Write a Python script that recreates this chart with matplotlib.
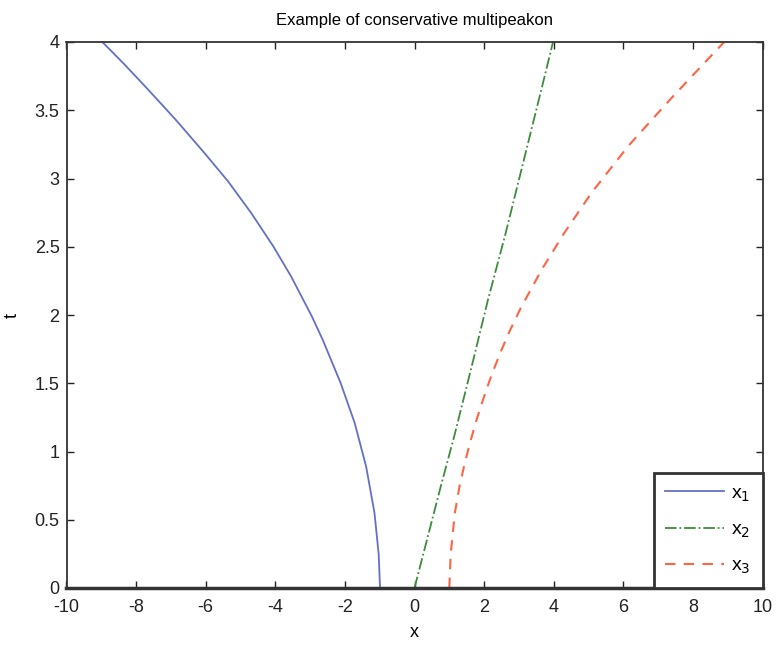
import matplotlib
matplotlib.use("Agg")
import matplotlib.pyplot as plt

# points (x position, time)
x1 = [-0.99, -1.03, -1.15, -1.39, -1.72, -2.12, -2.64, -2.95, -3.54, -4.05, -4.7,
      -5.36, -6.08, -6.86, -7.65, -8.35, -8.97]
t1 = [0.0, 0.25, 0.55, 0.89, 1.21, 1.5, 1.82, 1.99, 2.28, 2.5, 2.75,
      2.98, 3.2, 3.43, 3.65, 3.84, 4.0]

x2 = [0.0, 0.73, 1.16, 1.64, 2.11, 2.6, 3.0, 3.4, 3.76, 3.98]
t2 = [0.0, 0.72, 1.13, 1.62, 2.11, 2.58, 2.99, 3.4, 3.77, 4.0]

x3 = [1.0, 1.04, 1.16, 1.29, 1.44, 1.59, 1.78, 1.97, 2.2, 2.46, 2.73, 3.05,
      3.65, 4.3, 5.1, 6.15, 7.35, 8.38, 8.9]
t3 = [0.0, 0.25, 0.55, 0.74, 0.91, 1.06, 1.23, 1.38, 1.55, 1.72, 1.88, 2.05,
      2.33, 2.6, 2.9, 3.24, 3.58, 3.86, 4.0]

plt.rcParams['font.family'] = ['Liberation Sans', 'DejaVu Sans']
plt.rcParams['axes.unicode_minus'] = False

fig = plt.figure(figsize=(7.76, 6.45), dpi=100)
ax = fig.add_axes([66.5 / 776, 1 - 588 / 645, 696 / 776, 546 / 645])

ax.plot(x1, t1, color='#6270c8', lw=1.3, label=r'x$_1$')
ax.plot(x2, t2, color='#3d8c3d', lw=1.3, ls='-.', label=r'x$_2$')
ax.plot(x3, t3, color='#ff6444', lw=1.5, ls=(0, (5, 4)), label=r'x$_3$')

ax.set_xlim(-10, 10)
ax.set_ylim(0, 4)
ax.set_xticks(range(-10, 11, 2))
ax.set_yticks([0, 0.5, 1, 1.5, 2, 2.5, 3, 3.5, 4])
ax.set_yticklabels(['0', '0.5', '1', '1.5', '2', '2.5', '3', '3.5', '4'])
ax.tick_params(direction='in', top=True, right=True, length=5, width=1,
               labelsize=13, colors='#222222')
ax.tick_params(axis='x', pad=8)
ax.tick_params(axis='y', pad=5)

for s in ax.spines.values():
    s.set_linewidth(1.3)
    s.set_color('#333333')
ax.spines['bottom'].set_linewidth(2.5)

ax.set_xlabel('x', fontsize=13, labelpad=6)
ax.set_ylabel('t', fontsize=13, rotation=90, labelpad=10)
ax.set_title('Example of conservative multipeakon', fontsize=12, pad=12)

leg = ax.legend(loc='lower right', fontsize=14, fancybox=False, framealpha=1,
                edgecolor='#333333', borderaxespad=0, handlelength=3.0,
                labelspacing=0.9, borderpad=0.6, handletextpad=0.4)
leg.get_frame().set_linewidth(2)

fig.savefig('out.png', dpi=100)
